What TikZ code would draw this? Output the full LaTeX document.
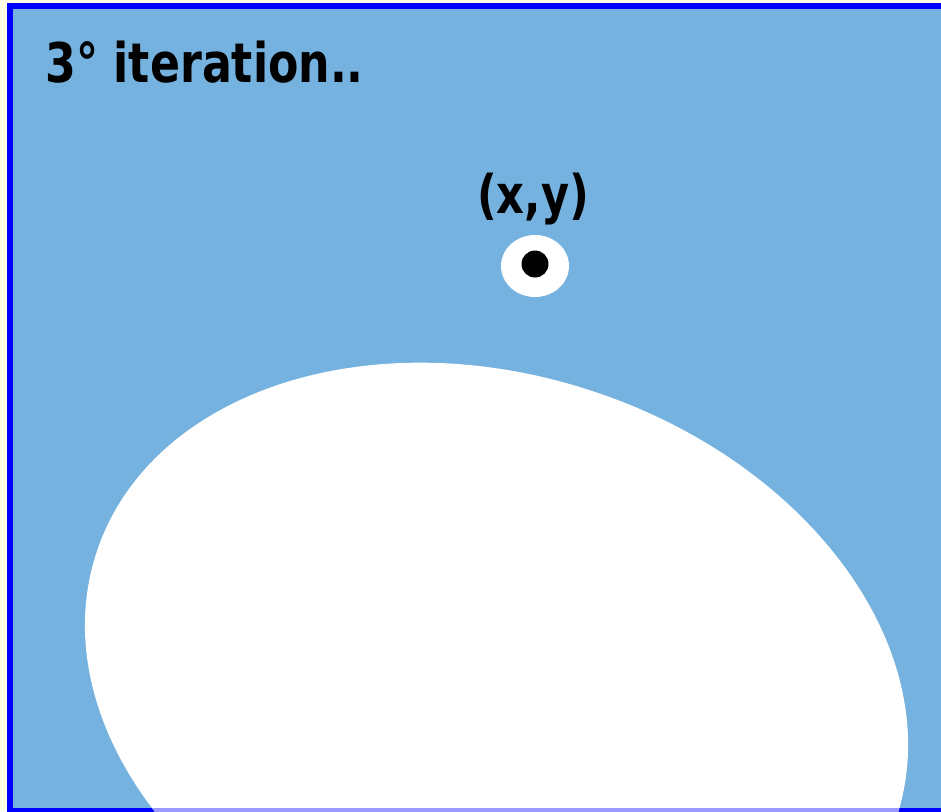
\documentclass[tikz,border=0pt]{standalone}
\usepackage{fontspec}
\setmainfont[FakeStretch=0.9]{DejaVu Sans Condensed}
\definecolor{creamback}{RGB}{255,255,230}
\definecolor{skyfill}{RGB}{117,178,223}
\definecolor{framecol}{RGB}{0,0,255}
\begin{document}
\tikzset{every picture/.style={line width=0.75pt}}

\begin{tikzpicture}[x=0.75pt,y=0.75pt,yscale=-1,xscale=1]
\useasboundingbox (0,0) rectangle (941,811);
\clip (0,0) rectangle (941,811);

%Shape: Rectangle [background]
\fill [color=creamback] (0,0) rectangle (941,811) ;
%Shape: Rectangle [frame]
\draw [color=framecol ,draw opacity=1 ][fill=skyfill ,fill opacity=1 ][line width=4.5]  (10,6) rectangle (960,811) ;
%Shape: Ellipse [region]
\fill [color=white ,rotate around={18.5:(496.5,685)}]  (496.5,685) ellipse (421.4 and 309.2) ;
\begin{scope}
\clip [rotate around={18.5:(496.5,685)}]  (496.5,685) ellipse (421.4 and 309.2) ;
\draw [color=framecol!40 ][line width=4.5]  (0,811) -- (941,811) ;
\end{scope}
%Shape: Ellipse [point]
\fill [color=white ]  (535,266) ellipse (34 and 31) ;
%Shape: Circle [point]
\fill [color=black ]  (535,264) circle (13.5) ;

% Text Node
\draw (45,82) node [anchor=base west][inner sep=0pt]  [font=\fontsize{41}{49}\selectfont\bfseries] (title) {3° iteration..};
% Text Node
\draw (533,213) node [anchor=base][inner sep=0pt]  [font=\fontsize{40}{48}\selectfont\bfseries] (coord) {(x,y)};

\end{tikzpicture}
\end{document}
